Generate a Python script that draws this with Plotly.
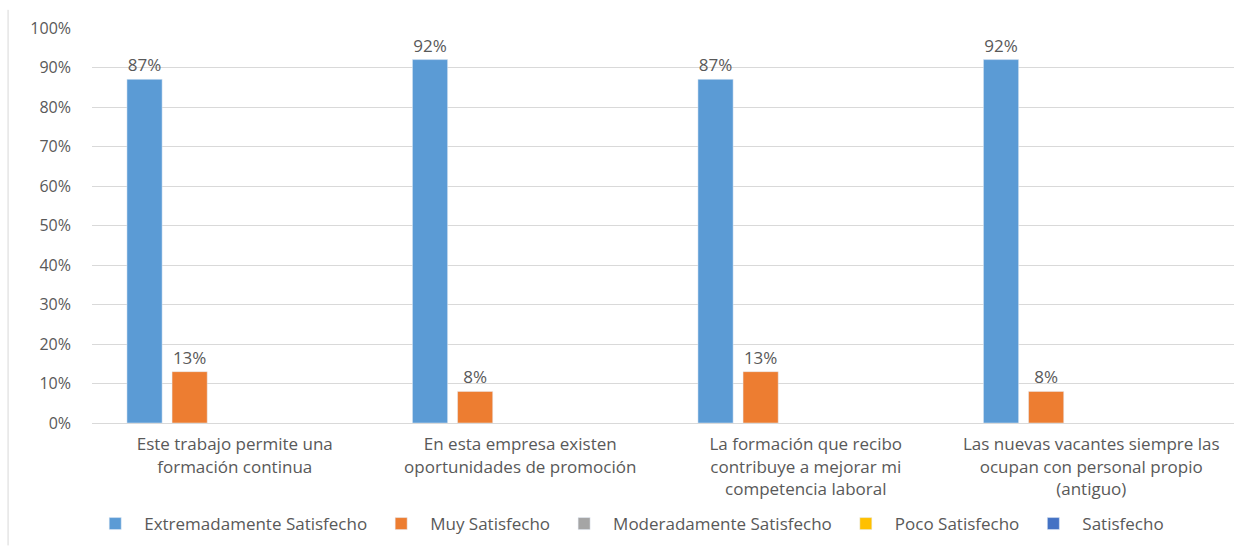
import plotly.graph_objects as go

categories = [
    "Este trabajo permite una<br>formación continua",
    "En esta empresa existen<br>oportunidades de promoción",
    "La formación que recibo<br>contribuye a mejorar mi<br>competencia laboral",
    "Las nuevas vacantes siempre las<br>ocupan con personal propio<br>(antiguo)",
]
series_names = ["Extremadamente Satisfecho", "Muy Satisfecho", "Moderadamente Satisfecho",
                "Poco Satisfecho", "Satisfecho"]
extremadamente = [0.87, 0.92, 0.87, 0.92]
muy = [0.13, 0.08, 0.13, 0.08]
moderadamente = [None, None, None, None]
poco = [None, None, None, None]
satisfecho = [None, None, None, None]
colors = ["#5B9BD5", "#ED7D31", "#A5A5A5", "#FFC000", "#4472C4"]

font_family = "Open Sans, Liberation Sans, sans-serif"
txt_color = "#595959"

fig = go.Figure()
for name, vals, col in zip(series_names, [extremadamente, muy, moderadamente, poco, satisfecho], colors):
    fig.add_trace(go.Bar(
        x=categories, y=vals, name=name, marker_color=col,
        text=[f"{round(v*100)}%" if v is not None else "" for v in vals],
        textposition="outside", cliponaxis=False,
        textfont=dict(size=17, color=txt_color, family=font_family),
    ))

fig.update_layout(
    width=1243, height=547,
    margin=dict(l=92, r=9, t=28, b=124, autoexpand=False),
    barmode="group", bargap=0.21, bargroupgap=0.22,
    plot_bgcolor="white", paper_bgcolor="white",
    font=dict(family=font_family, size=16, color=txt_color),
    xaxis=dict(showgrid=False, showline=True, linecolor="#D9D9D9", ticks="", automargin=False,
               ticklabelstandoff=6, tickfont=dict(size=17, color=txt_color)),
    yaxis=dict(range=[0, 1.0], dtick=0.1, tickformat=".0%", gridcolor="#D9D9D9",
               zeroline=False, showline=False, ticks="", ticklabelstandoff=20, automargin=False,
               tickfont=dict(size=16, color=txt_color)),
    legend=dict(orientation="h", xref="container", yref="container", x=0.505, xanchor="center",
                y=0.042, yanchor="middle",
                font=dict(size=17, color=txt_color), itemwidth=48, traceorder="normal"),
    showlegend=True,
    shapes=[dict(type="line", xref="paper", yref="paper", x0=-0.0735, x1=-0.0735, y0=-0.31, y1=1.046,
                 line=dict(color="#D9D9D9", width=1))],
)

fig.write_html("out.html")
